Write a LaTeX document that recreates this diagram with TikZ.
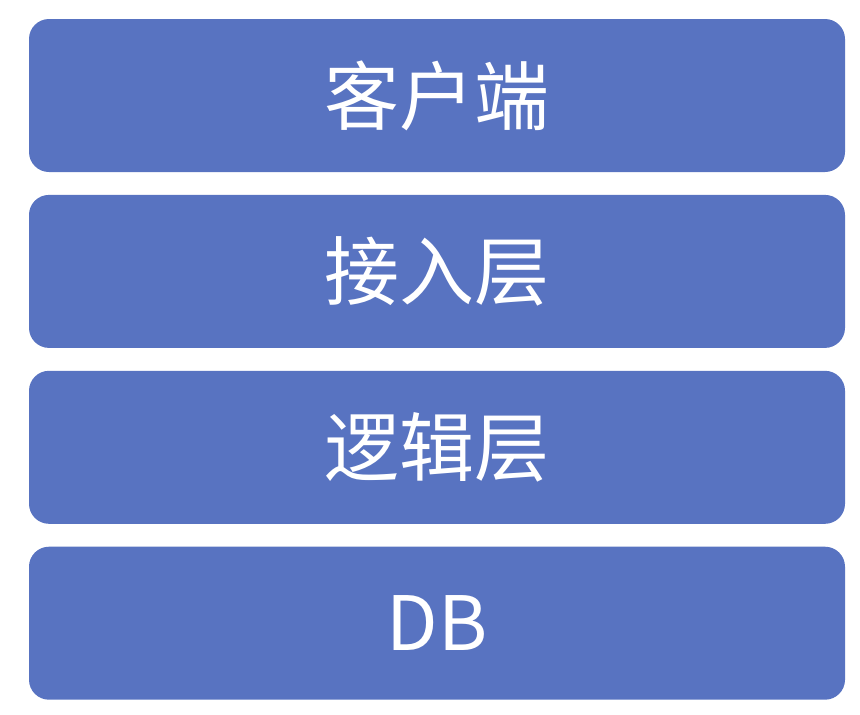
\documentclass[tikz,border=0pt]{standalone}
\usepackage{fontspec}
\setmainfont{Noto Sans CJK SC}
\usetikzlibrary{positioning}
\definecolor{layerblue}{HTML}{5873C1}

\begin{document}
\begin{tikzpicture}[x=1pt,y=1pt,node distance=22.5pt]
		\tikzstyle{layer}=[rectangle, rounded corners=20pt, fill=layerblue, text=white, minimum width=816pt, minimum height=153pt, inner sep=0pt, font=\fontsize{75}{80}\selectfont]
		\useasboundingbox (0,0) rectangle (860,-715);

		\node [layer] (client) at (437,-95.5) {客户端};
		\node [layer] (access) [below=of client] {接入层};
		\node [layer] (logic) [below=of access] {逻辑层};
		\node [layer] (db) [below=of logic] {DB};
	\end{tikzpicture}
\end{document}
